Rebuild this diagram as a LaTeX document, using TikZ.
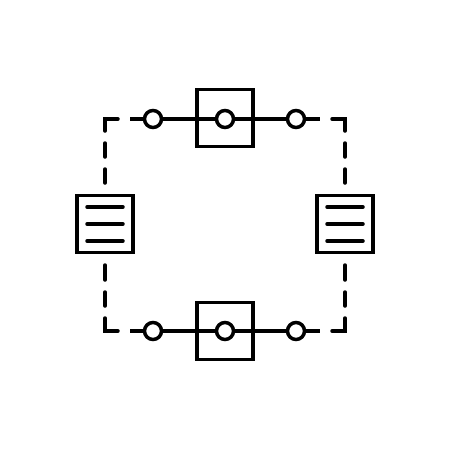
\documentclass[tikz,border=0pt]{standalone}
\begin{document}
\begin{tikzpicture}[x=1pt,y=-1pt,line width=3.5pt,line cap=round,
  sq/.style={draw,rectangle,minimum width=56pt,minimum height=57pt,inner sep=0pt},
  port/.style={draw,fill=white,circle,minimum size=17pt,inner sep=0pt},
  wire/.style={line cap=butt}]
\useasboundingbox (0,0) rectangle (450,450);
% top row
\coordinate (tl) at (130,119); \coordinate (tr) at (320,119);
\node[sq] (topbox) at (225,118) {};
\draw[wire] (tl) -- (tr);
\node[port] (t1) at (153,119) {};
\node[port] (t2) at (225,119) {};
\node[port] (t3) at (296,119) {};
% bottom row
\coordinate (bl) at (130,331); \coordinate (br) at (320,331);
\node[sq] (botbox) at (225,331) {};
\draw[wire] (bl) -- (br);
\node[port] (b1) at (153,331) {};
\node[port] (b2) at (225,331) {};
\node[port] (b3) at (296,331) {};
% side boxes
\node[sq] (lbox) at (105,224) {};
\node[sq] (rbox) at (345,224) {};
\foreach \b in {lbox,rbox}{
  \foreach \dy in {-17,0,17}{
    \draw ([xshift=-18pt,yshift=-\dy pt]\b.center) -- ([xshift=18pt,yshift=-\dy pt]\b.center);
  }
}
% dashed frame pieces
\foreach \sx/\X in {1/105,-1/345}{
  \draw ({\X+\sx*13},119) -- (\X,119) -- (\X,131);
  \draw (\X,143) -- (\X,157);
  \draw (\X,169) -- (\X,183);
  \draw (\X,265) -- (\X,280);
  \draw (\X,292) -- (\X,306);
  \draw (\X,318) -- (\X,331) -- ({\X+\sx*13},331);
}
\end{tikzpicture}
\end{document}
